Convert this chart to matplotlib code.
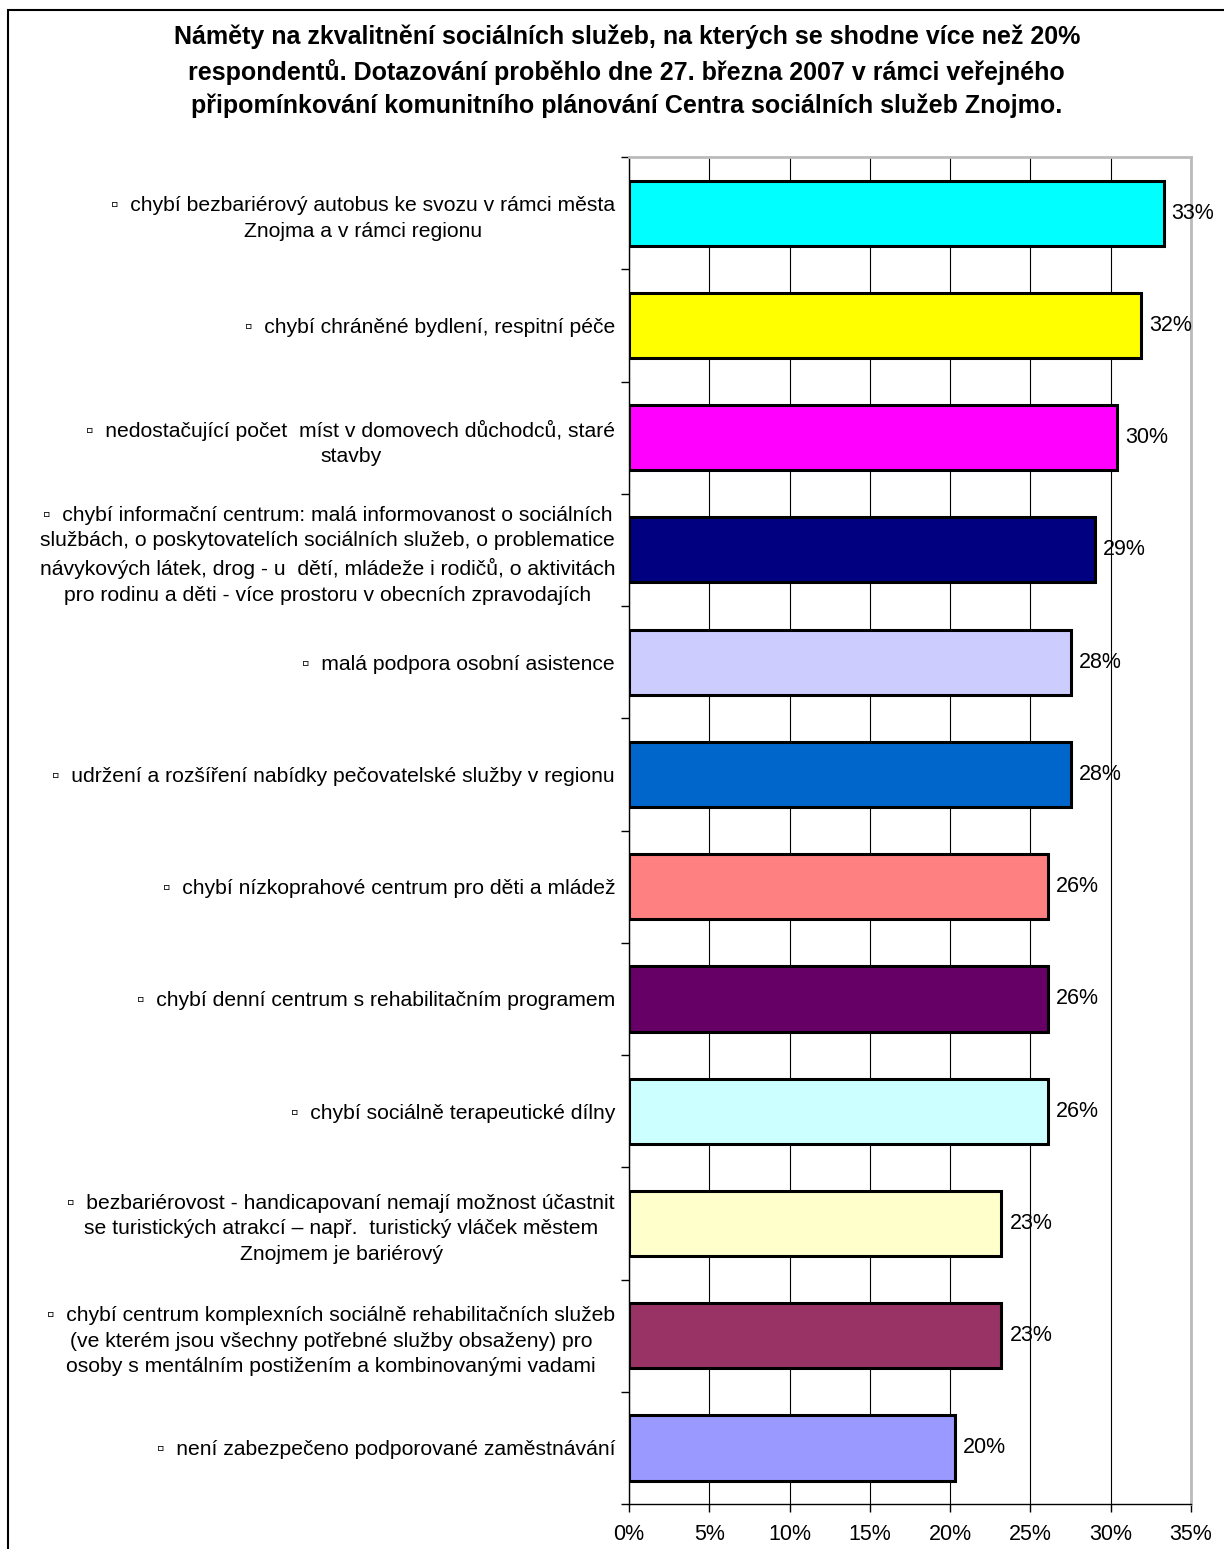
import matplotlib.pyplot as plt
from matplotlib.patches import Rectangle
from matplotlib.ticker import FuncFormatter, MultipleLocator

plt.rcParams["font.family"] = ["Liberation Sans", "DejaVu Sans"]

title = (
    "Náměty na zkvalitnění sociálních služeb, na kterých se shodne více než 20%\n"
    "respondentů. Dotazování proběhlo dne 27. března 2007 v rámci veřejného\n"
    "připomínkování komunitního plánování Centra sociálních služeb Znojmo."
)

categories = [
    "▫  chybí bezbariérový autobus ke svozu v rámci města\nZnojma a v rámci regionu",
    "▫  chybí chráněné bydlení, respitní péče",
    "▫  nedostačující počet  míst v domovech důchodců, staré\nstavby",
    "▫  chybí informační centrum: malá informovanost o sociálních\n"
    "službách, o poskytovatelích sociálních služeb, o problematice\n"
    "návykových látek, drog - u  dětí, mládeže i rodičů, o aktivitách\n"
    "pro rodinu a děti - více prostoru v obecních zpravodajích",
    "▫  malá podpora osobní asistence",
    "▫  udržení a rozšíření nabídky pečovatelské služby v regionu",
    "▫  chybí nízkoprahové centrum pro děti a mládež",
    "▫  chybí denní centrum s rehabilitačním programem",
    "▫  chybí sociálně terapeutické dílny",
    "▫  bezbariérovost - handicapovaní nemají možnost účastnit\n"
    "se turistických atrakcí – např.  turistický vláček městem\n"
    "Znojmem je bariérový",
    "▫  chybí centrum komplexních sociálně rehabilitačních služeb\n"
    "(ve kterém jsou všechny potřebné služby obsaženy) pro\n"
    "osoby s mentálním postižením a kombinovanými vadami",
    "▫  není zabezpečeno podporované zaměstnávání",
]

values = [33.3, 31.9, 30.4, 29.0, 27.5, 27.5, 26.1, 26.1, 26.1, 23.2, 23.2, 20.3]
value_labels = ["33%", "32%", "30%", "29%", "28%", "28%", "26%", "26%", "26%", "23%", "23%", "20%"]

colors = [
    "#00FFFF", "#FFFF00", "#FF00FF", "#000080", "#CCCCFF", "#0066CC",
    "#FF8080", "#660066", "#CCFFFF", "#FFFFCC", "#993366", "#9999FF",
]

fig = plt.figure(figsize=(12.24, 15.49), dpi=100)
ax = fig.add_axes([0.5139, 0.0290, 0.4591, 0.8696])

ypos = list(range(len(categories)))
ax.barh(ypos, values, height=0.58, color=colors, edgecolor="black", linewidth=2.2, zorder=3)

for y, v, lab in zip(ypos, values, value_labels):
    ax.text(v + 0.5, y, lab, va="center", ha="left", fontsize=15.5, zorder=4)

ax.set_xlim(0, 35)
ax.set_ylim(len(categories) - 0.5, -0.5)
ax.xaxis.set_major_locator(MultipleLocator(5))
ax.xaxis.set_major_formatter(FuncFormatter(lambda x, p: f"{x:.0f}%"))
ax.grid(axis="x", color="black", linewidth=0.8, zorder=0)

ax.set_yticks([y + 0.5 for y in range(-1, len(categories))])
ax.set_yticklabels([])
ax.set_yticks(ypos, minor=True)
ax.set_yticklabels(categories, minor=True, fontsize=15.2, ha="right",
                   multialignment="center", linespacing=1.45)
ax.tick_params(axis="y", which="minor", length=0, pad=10)
ax.tick_params(axis="y", which="major", length=6, width=1)
ax.tick_params(axis="x", length=6, width=1, labelsize=15.5, pad=8)

for side in ["top", "right"]:
    ax.spines[side].set_color("#BBBBBB")
    ax.spines[side].set_linewidth(2)
ax.spines["left"].set_linewidth(1)
ax.spines["bottom"].set_linewidth(1)

fig.text(0.512, 0.984, title, ha="center", va="top", fontsize=18,
         fontweight="bold", linespacing=1.45)

fig.patches.append(Rectangle((8 / 1224, -0.01), 1.1, 1 - 10 / 1549 + 0.01,
                             transform=fig.transFigure, fill=False,
                             edgecolor="black", linewidth=1.5))

fig.savefig("out.png", dpi=100)
